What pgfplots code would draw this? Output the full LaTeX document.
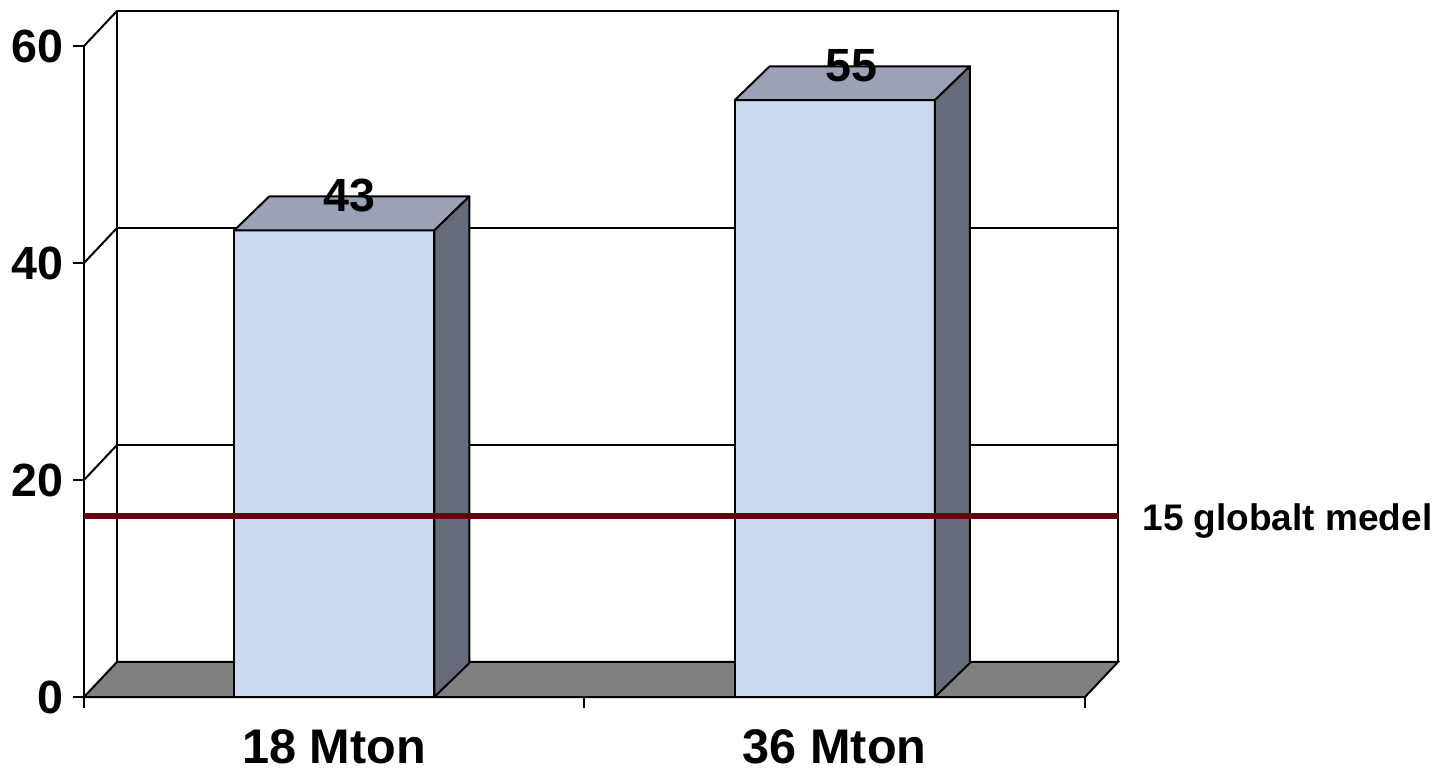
\documentclass[border=0pt]{standalone}
\usepackage{fontspec}
\setmainfont{Liberation Sans}
\usepackage{pgfplots}
\pgfplotsset{compat=1.18}
\definecolor{barfront}{RGB}{204,216,238}
\definecolor{bartop}{RGB}{155,162,181}
\definecolor{barside}{RGB}{101,107,120}
\definecolor{floorgray}{RGB}{128,128,128}
\definecolor{medelred}{RGB}{102,0,17}
\begin{document}
\begin{tikzpicture}
\begin{axis}[
  scale only axis, width=500.5pt, height=325.5pt,
  xmin=0, xmax=2, ymin=0, ymax=60,
  clip=false,
  axis x line*=bottom, axis y line*=left,
  axis line style={-, black, line width=1pt},
  xtick={0,1,2}, xticklabels={},
  extra x ticks={0.5,1.5},
  extra x tick labels={18 Mton,36 Mton},
  extra x tick style={major tick length=0pt, xticklabel style={anchor=north, inner sep=0pt, yshift=-16.3pt, font=\fontsize{24.3}{24.3}\selectfont\bfseries}},
  ytick={0,20,40,60},
  yticklabel style={anchor=east, inner sep=0pt, xshift=-4.5pt},
  tick align=outside, major tick length=5.5pt,
  tick style={black, line width=1pt},
  ticklabel style={font=\fontsize{23.3}{23.3}\selectfont\bfseries},
  /pgf/number format/assume math mode=true,
  no markers,
]
% back wall and side wall
\draw[black, line width=1pt] (axis cs:0.066,3.23) rectangle (axis cs:2.066,63.23);
\draw[black, line width=1pt] (axis cs:0.066,23.23) -- (axis cs:2.066,23.23);
\draw[black, line width=1pt] (axis cs:0.066,43.23) -- (axis cs:2.066,43.23);
\draw[black, line width=1pt] (axis cs:0,20) -- (axis cs:0.066,23.23);
\draw[black, line width=1pt] (axis cs:0,40) -- (axis cs:0.066,43.23);
\draw[black, line width=1pt] (axis cs:0,60) -- (axis cs:0.066,63.23);
% floor
\filldraw[fill=floorgray, draw=black, line width=1pt] (axis cs:0,0) -- (axis cs:2,0) -- (axis cs:2.066,3.23) -- (axis cs:0.066,3.23) -- cycle;
% bar 18 Mton = 43
\addplot[fill=barfront, draw=black, line width=1pt, line join=round] coordinates {(0.3,0) (0.7,0) (0.7,43) (0.3,43) (0.3,0)};
\addplot[fill=bartop, draw=black, line width=1pt, line join=round] coordinates {(0.3,43) (0.7,43) (0.77,46.13) (0.37,46.13) (0.3,43)};
\addplot[fill=barside, draw=black, line width=1pt, line join=round] coordinates {(0.7,0) (0.77,3.13) (0.77,46.13) (0.7,43) (0.7,0)};
% bar 36 Mton = 55
\addplot[fill=barfront, draw=black, line width=1pt, line join=round] coordinates {(1.3,0) (1.7,0) (1.7,55) (1.3,55) (1.3,0)};
\addplot[fill=bartop, draw=black, line width=1pt, line join=round] coordinates {(1.3,55) (1.7,55) (1.77,58.13) (1.37,58.13) (1.3,55)};
\addplot[fill=barside, draw=black, line width=1pt, line join=round] coordinates {(1.7,0) (1.77,3.13) (1.77,58.13) (1.7,55) (1.7,0)};
% value labels
\node[font=\fontsize{23.3}{23.3}\selectfont\bfseries, inner sep=0pt] at (axis cs:0.531,46.2) {43};
\node[font=\fontsize{23.3}{23.3}\selectfont\bfseries, inner sep=0pt] at (axis cs:1.533,58.2) {55};
% global mean line
\addplot[medelred, line width=3pt] coordinates {(0,16.7) (2.066,16.7)};
\node[anchor=base west, inner sep=0pt, font=\fontsize{18.5}{18.5}\selectfont\bfseries] at (axis cs:2.114,15.39) {15 globalt medel};
\coordinate (BL) at (axis cs:-0.1678,-6.913);
\coordinate (TR) at (axis cs:2.7173,64.24);
\end{axis}
\pgfresetboundingbox
\path (BL) rectangle (TR);
\end{tikzpicture}
\end{document}
